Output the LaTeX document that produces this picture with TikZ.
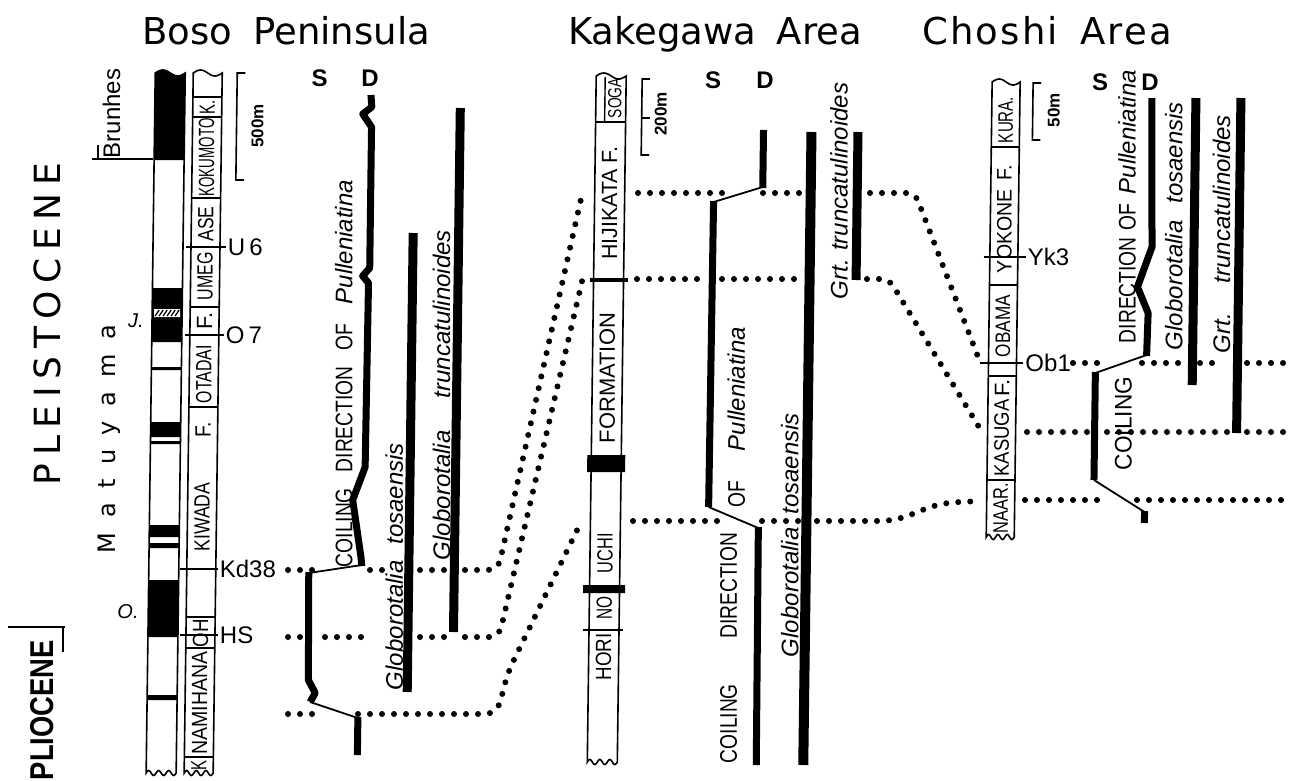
\documentclass[tikz,border=0pt]{standalone}
\usepackage{fontspec}
\usepackage{graphicx}
\setmainfont{Liberation Sans}
\newfontfamily\dejav{DejaVu Sans}
\newfontfamily\dejavls[LetterSpace=6]{DejaVu Sans}
\newfontfamily\cond[FakeStretch=0.8]{Liberation Sans}
\usetikzlibrary{patterns}
\newcommand\fitb[2]{\resizebox{#1}{\height}{#2}}
\newcommand\strat[4]{%
  \draw[colbox] (#1,#4) -- (#1,#3) -- plot[domain=0:1,samples=25] ({#1+(#2-#1)*\x},{#3-3*sin(360*\x)}) -- (#2,#4) -- plot[domain=0:1,samples=40] ({#2-(#2-#1)*\x},{#4+2.5*sin(1080*\x)}) -- cycle;}
\begin{document}
\begin{tikzpicture}[x=1pt,y=-1pt,
  colbox/.style={line width=1.6pt},
  divl/.style={line width=1.4pt},
  mkline/.style={line width=2pt},
  coil/.style={line width=7pt, line join=round},
  coilthin/.style={line width=1.8pt},
  rangebar/.style={line width=9pt},
  dots/.style={line width=6pt, line cap=round, dash pattern=on 0pt off 12pt},
  rl/.style={rotate=90, anchor=base, inner sep=0pt, font=\fontsize{24}{28}\selectfont},
  cl/.style={rotate=90, anchor=center, inner sep=0pt, font=\cond\fontsize{22}{24}\selectfont},
  mk/.style={anchor=west, inner sep=1pt, font=\fontsize{24}{28}\selectfont},
  sd/.style={font=\bfseries\fontsize{24}{28}\selectfont, inner sep=0pt},
  scl/.style={rotate=90, anchor=center, inner sep=0pt, font=\bfseries\fontsize{17}{20}\selectfont},
  ttl/.style={anchor=base, inner sep=0pt, font=\dejav\fontsize{37}{44}\selectfont},
]
\fill[white] (0,0) rectangle (1289,780);
\useasboundingbox (0,0) rectangle (1289,780);

% ---------- titles ----------
\node[ttl] (t1) at (286,44) {\makebox[288pt][s]{Boso Peninsula}};
\node[ttl] (t2) at (715,44) {\makebox[294pt][s]{Kakegawa Area}};
\node[ttl, font=\dejavls\fontsize{37}{44}\selectfont] (t3) at (1047,44) {Choshi\hspace{8pt} Area};

% ---------- left labels ----------
\node[rotate=90, anchor=center, inner sep=0pt, font=\dejav\fontsize{36}{40}\selectfont] (pleis) at (47,335) {\makebox[300pt][s]{P L E I S T O C E N E}};
\node[rotate=90, anchor=base, inner sep=0pt, font=\dejav\fontsize{24}{28}\selectfont] (matu) at (115,439) {\makebox[228pt][s]{M a t u y a m a}};
\node[rl] (brun) at (120,113.5) {Brunhes};
\node[rotate=90, anchor=base, inner sep=0pt, font=\bfseries\fontsize{33}{36}\selectfont] (plio) at (53,710) {\fitb{140pt}{PLIOCENE}};
\node[font=\itshape\fontsize{20}{24}\selectfont, inner sep=0pt] (jlab) at (136,321) {J.};
\node[font=\itshape\fontsize{20}{24}\selectfont, inner sep=0pt] (olab) at (128,612) {O.};
\draw[line width=1.5pt] (92,159) -- (153,159);
\draw[line width=1.5pt] (98,159) -- (98,145);
\draw[line width=1.5pt] (8,627) -- (65,627);
\draw[line width=1.5pt] (63,627) -- (63,652);

% ---------- S D ----------
\node[sd] (bS) at (319.5,78.5) {S};
\node[sd] (bD) at (370,78.5) {D};
\node[sd] (kS) at (713,80) {S};
\node[sd] (kD) at (765,80) {D};
\node[sd] (cS) at (1100,82) {S};
\node[sd] (cD) at (1150,82) {D};

% ---------- dotted correlation lines ----------
\draw[dots] (288,570) -- (314,570);
\draw[dots] (370,570) -- (383,570);
\draw[dots] (420,570) -- (445,570);
\draw[dots, rounded corners=10pt] (465,570) -- (498,570) -- (583,190);
\draw[dots] (288,637) -- (301,637);
\draw[dots] (325,637) -- (371,637);
\draw[dots] (420,637) -- (444,637);
\draw[dots, rounded corners=10pt] (465,637) -- (499,637) -- (583,277);
\draw[dots] (288,714) -- (313,714);
\draw[dots, rounded corners=12pt] (358,714) -- (497,714) -- (508,672) -- (582,520);

\draw[dots] (638,193) -- (722,193);
\draw[dots] (763,193) -- (800,193);
\draw[dots, rounded corners=8pt] (870,193) -- (915,193) -- (980,362);
\draw[dots] (1073,363) -- (1108,363);
\draw[dots] (1142,363) -- (1180,363);
\draw[dots] (1200,363) -- (1223,363);
\draw[dots] (1247,363) -- (1285,363);

\draw[dots] (637,279) -- (697,279);
\draw[dots] (722,279) -- (798,279);
\draw[dots, rounded corners=8pt] (867,279) -- (889,279) -- (982,432);
\draw[dots] (1027,432) -- (1087,432);
\draw[dots] (1107,432) -- (1227,432);
\draw[dots] (1247,432) -- (1285,432);

\draw[dots] (633,521) -- (720,521);
\draw[dots] (762,521) -- (798,521);
\draw[dots, rounded corners=15pt] (817,521) -- (895,521) -- (940,503) -- (980,501);
\draw[dots] (1025,500) -- (1107,500);
\draw[dots] (1137,500) -- (1285,500);

\begin{scope}[xslant=0.013, xshift=5.2pt]
% ---------- Boso paleomagnetic column ----------
\fill (151,160) -- (151,73) -- plot[domain=0:1,samples=25] ({151+30*\x},{73-3*sin(360*\x)}) -- (181,160) -- cycle;
\foreach \a/\b in {288/342, 367/370, 422/437, 441/444, 525/537, 543/548, 580/637, 695/700}
  \fill (151,\a) rectangle (181,\b);
\fill[white] (153,309) rectangle (179,317);
\foreach \i in {0,...,5} \draw[line width=1.3pt] ({154+4*\i},316) -- ({158+4*\i},310);
\strat{151}{181}{73}{773}

% ---------- Boso formation column ----------
\strat{189}{218}{73}{773}
\foreach \yy in {97,117,198,307,407,617,648,757} \draw[divl] (189,\yy) -- (218,\yy);
\draw[mkline] (184,247) -- (224,247) node[mk] (u6) {U\,6};
\draw[mkline] (184,335) -- (223,335) node[mk] (o7) {O\,7};
\draw[mkline] (182,569) -- (220,569) node[mk] (kd) {Kd38};
\draw[mkline] (183,635) -- (221,635) node[mk] (hs) {HS};
\node[cl] (bf1) at (203.5,107) {\fitb{14pt}{K.}};
\node[cl] (bf2) at (203.5,157.5) {\fitb{78pt}{KOKUMOTO}};
\node[cl] (bf3) at (203.5,224) {\fitb{35pt}{ASE}};
\node[cl] (bf4) at (203.5,276) {\fitb{48pt}{UMEG}};
\node[cl] (bf5) at (203.5,321) {\fitb{17pt}{F.}};
\node[cl] (bf6) at (203.5,374) {\fitb{58pt}{OTADAI}};
\node[cl] (bf7) at (203.5,430) {\fitb{15pt}{F.}};
\node[cl] (bf8) at (203.5,517) {\fitb{69pt}{KIWADA}};
\node[cl] (bf9) at (203.5,633) {\fitb{28pt}{OH}};
\node[cl] (bf10) at (203.5,703) {\fitb{103pt}{NAMIHANA}};
\node[cl] (bf11) at (203.5,765) {\fitb{10pt}{K}};
% scale
\draw[line width=1.6pt] (241,73) -- (233,73) -- (233,180) -- (241,180);
\node[scl] (bsc) at (254,126) {500m};

% ---------- Boso biostratigraphy ----------
\draw[coil] (367,95) -- (368,107) -- (359,114) -- (368,127) -- (368,268) -- (361,276) -- (367,283) -- (366,467) -- (354,500) -- (363,557) -- (364,566);
\draw[coilthin] (364,565) -- (311,573);
\draw[coil] (311,572) -- (312,680) -- (319,693) -- (314,702);
\draw[coilthin] (314,702) -- (362,718);
\draw[coil] (362,717) -- (362,755);
\draw[rangebar] (411,233) -- (411,692);
\draw[rangebar] (456.5,108) -- (456.5,632);
\node[rl] (bcoil) at (352,373.5) {\makebox[387pt][s]{{\cond COILING DIRECTION OF} {\itshape Pulleniatina}}};
\node[rl] (btosa) at (405,566.5) {\makebox[247pt][s]{\itshape Globorotalia tosaensis}};
\node[rl] (btrun) at (450,395) {\makebox[330pt][s]{\itshape Globorotalia truncatulinoides}};

% ---------- Kakegawa column ----------
\strat{592}{622}{76}{762}
\draw[divl] (592,122) -- (622,122);
\draw[divl] (601,77) -- (601,122);
\draw[line width=3.5pt] (588,280) -- (626,280);
\fill (588,455) rectangle (626,472);
\fill (585.5,585) rectangle (627.5,593);
\draw[mkline] (586,630) -- (626,630);
\node[cl, font=\cond\fontsize{19}{22}\selectfont] (kf1) at (611,98) {\fitb{40pt}{SOGA}};
\node[cl] (kf2) at (607,203) {\fitb{113pt}{HIJIKATA\hspace{5pt}F.}};
\node[cl] (kf3) at (607,378) {\fitb{130pt}{FORMATION}};
\node[cl] (kf4) at (607,553) {\fitb{40pt}{UCHI}};
\node[cl] (kf5) at (607,608) {\fitb{23pt}{NO}};
\node[cl] (kf6) at (607,657) {\fitb{47pt}{HORI}};
\draw[line width=1.6pt] (646,79) -- (638,79) -- (638,155) -- (646,155);
\draw[line width=1.6pt] (638,118) -- (646,118);
\node[scl] (ksc) at (657,114) {200m};

% ---------- Kakegawa biostratigraphy ----------
\draw[coil] (760,130) -- (760,188);
\draw[coilthin] (760,187) -- (711,202);
\draw[coil] (711,201) -- (710,507);
\draw[coilthin] (710,507) -- (760,528);
\draw[coil] (760,527) -- (761,765);
\draw[rangebar, line width=10pt] (808,132) -- (808,765);
\draw[rangebar] (854.5,132) -- (854.5,280);
\node[rl] (kcoil1) at (740,648) {\makebox[230pt][s]{\cond COILING DIRECTION}};
\node[rl] (kcoil2) at (745,417) {\makebox[180pt][s]{{\cond OF} {\itshape Pulleniatina}}};
\node[rl] (ktosa) at (800,535) {\makebox[244pt][s]{\itshape Globorotalia tosaensis}};
\node[rl] (ktrun) at (845,192) {\makebox[214pt][s]{\itshape Grt. truncatulinoides}};

% ---------- Choshi column ----------
\strat{988}{1016}{82}{537}
\foreach \yy in {147,285,376,480} \draw[divl] (988,\yy) -- (1016,\yy);
\draw[mkline] (982,257) -- (1024,257) node[mk] (yk) {Yk3};
\draw[mkline] (980,363) -- (1023,363) node[mk] (ob) {Ob1};
\node[cl, font=\cond\fontsize{21}{24}\selectfont] (cf1) at (1002,120) {\fitb{46pt}{KURA.}};
\node[cl, font=\cond\fontsize{21}{24}\selectfont] (cf2) at (1002,219) {\fitb{108pt}{YOKONE\hspace{8pt}F.}};
\node[cl, font=\cond\fontsize{21}{24}\selectfont] (cf3) at (1002,326) {\fitb{62pt}{OBAMA}};
\node[cl, font=\cond\fontsize{21}{24}\selectfont] (cf4) at (1002,388) {\fitb{17pt}{F.}};
\node[cl, font=\cond\fontsize{21}{24}\selectfont] (cf5) at (1002,438) {\fitb{77pt}{KASUGA}};
\node[cl, font=\cond\fontsize{21}{24}\selectfont] (cf6) at (1002,508) {\fitb{50pt}{NAAR.}};
\draw[line width=1.6pt] (1037,83) -- (1029,83) -- (1029,140) -- (1037,140);
\node[scl] (csc) at (1050,110) {50m};

% ---------- Choshi biostratigraphy ----------
\draw[coil] (1148,98) -- (1150,247) -- (1136,287) -- (1147,313) -- (1146,356);
\draw[coilthin] (1146,355) -- (1095,373);
\draw[coil] (1095,372) -- (1095,480);
\draw[coilthin] (1095,480) -- (1146,512);
\draw[coil] (1146,511) -- (1146,523);
\draw[rangebar] (1192,98) -- (1192,385);
\draw[rangebar] (1237,98) -- (1237,433);
\node[rl] (ccoil1) at (1132,423.5) {\fitb{93pt}{\cond COILING}};
\node[rl] (ccoil2) at (1133,206.5) {\makebox[273pt][s]{{\cond DIRECTION OF} {\itshape Pulleniatina}}};
\node[rl] (ctosa) at (1180,226) {\makebox[248pt][s]{\itshape Globorotalia tosaensis}};
\node[rl] (ctrun) at (1228,234) {\makebox[238pt][s]{\itshape Grt. truncatulinoides}};
\end{scope}
\end{tikzpicture}
\end{document}
